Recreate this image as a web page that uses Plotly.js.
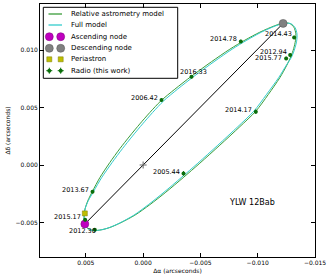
<!DOCTYPE html>
<html><head><meta charset="utf-8">
<script src="https://cdn.plot.ly/plotly-3.0.1.min.js"></script>
<style>html,body{margin:0;padding:0;background:#fff}#chart{width:332px;height:279px}</style>
</head><body><div id="chart"></div>
<script>
// Relative astrometry model orbit (arcsec)
var relModelX = [0.005001,0.005132,0.005150,0.005062,0.004827,0.004416,0.003779,0.002906,0.002034,0.001161,0.000288,-0.000585,-0.001545,-0.002767,-0.004224,-0.005970,-0.007567,-0.008876,-0.010186,-0.011495,-0.012280,-0.012804,-0.013153,-0.013328,-0.013293,-0.013136,-0.012891,-0.012542,-0.011931,-0.010910,-0.009836,-0.008440,-0.006694,-0.004949,-0.003491,-0.001981,-0.000585,0.000724,0.002034,0.002906,0.003517,0.004128,0.004652,0.005001];
var relModelY = [-0.005322,-0.004844,-0.004322,-0.003800,-0.003104,-0.002278,-0.001104,0.000217,0.001417,0.002522,0.003574,0.004565,0.005574,0.006592,0.007722,0.008983,0.010070,0.010853,0.011548,0.012113,0.012348,0.012305,0.011983,0.011418,0.010809,0.010113,0.009418,0.008679,0.007592,0.006113,0.004678,0.003331,0.001722,0.000157,-0.001104,-0.002365,-0.003452,-0.004365,-0.005061,-0.005435,-0.005609,-0.005696,-0.005626,-0.005322];
// Full model orbit (arcsec)
var fullModelX = [0.005001,0.005132,0.005150,0.005062,0.004783,0.004311,0.003622,0.002705,0.001807,0.000925,0.000044,-0.000829,-0.001789,-0.003003,-0.004451,-0.006188,-0.007768,-0.009051,-0.010317,-0.011600,-0.012411,-0.012935,-0.013267,-0.013432,-0.013397,-0.013223,-0.012961,-0.012498,-0.011826,-0.010753,-0.009661,-0.008265,-0.006519,-0.004774,-0.003316,-0.001824,-0.000454,0.000811,0.002078,0.002932,0.003517,0.004128,0.004652,0.005001];
var fullModelY = [-0.005322,-0.004844,-0.004322,-0.003800,-0.003104,-0.002278,-0.001104,0.000217,0.001417,0.002522,0.003574,0.004565,0.005574,0.006592,0.007722,0.008983,0.010070,0.010853,0.011548,0.012113,0.012331,0.012270,0.011940,0.011374,0.010766,0.010087,0.009400,0.008679,0.007592,0.006113,0.004678,0.003331,0.001722,0.000157,-0.001104,-0.002365,-0.003452,-0.004365,-0.005061,-0.005435,-0.005609,-0.005696,-0.005626,-0.005322];
// Special points
var ascNodeX = [0.005088], ascNodeY = [-0.005131];
var descNodeX = [-0.012219], descNodeY = [0.012314];
var periX = [0.005088], periY = [-0.004209];
var centerX = [0], centerY = [0];
// Radio (this work)
var epochs = ['2006.42','2014.78','2014.43','2012.94','2015.77','2016.33','2014.17','2005.44','2013.67','2015.17','2012.30'];
var radioX = [-0.001606,-0.008527,-0.013179,-0.012830,-0.012481,-0.004224,-0.009836,-0.003526,0.004416,0.005062,0.004216];
var radioY = [0.005652,0.010748,0.011096,0.009566,0.009270,0.007679,0.004635,-0.000730,-0.002322,-0.004757,-0.005626];
var radioErrX = [0.0001,0.0001,0.0001,0.0001,0.0001,0.0001,0.0001,0.0001,0.0001,0.0001,0.0001];
var radioErrY = [0.00015,0.00015,0.00015,0.00015,0.00015,0.00015,0.0002,0.0002,0.00015,0.00015,0.00015];
// Tick labels
var xTickVals = [0.005,0,-0.005,-0.010,-0.015];
var xTickText = ['0.005','0.000','\u22120.005','\u22120.010','\u22120.015'];
var yTickVals = [-0.005,0,0.005,0.010];
var yTickText = ['\u22120.005','0.000','0.005','0.010'];
var legendNames = ['Relative astrometry model','Full model','Ascending node','Descending node','Periastron','Radio (this work)'];

// ---- layout / style constants ----
var labelShiftX = [-2,-2.3,0,-1,-2,17.6,-2,-2,-2,-2,3.3];
var labelShiftY = [2.3,2.4,3.7,2.6,0.4,4.3,1.7,1.8,2,2.3,-1.7];
var font = 'DejaVu Sans, sans-serif';
var GREEN = '#3a9d3a', CYAN = '#33cccc', MAG = '#bf00bf', GRAY = '#808080', YEL = '#bfbf00', DOT = '#0a6e0a';
// legend geometry in overlay pixel axes
var LG = {x0:43.3, x1:177.7, y0:7.3, y1:78.3, rows:[14,25,36.7,48.3,59.3,70.7], k0:49.3, k1:60.7, lx0:48.5, lx1:62, tx:69};

var traces = [
  {x:[ascNodeX[0],descNodeX[0]], y:[ascNodeY[0],descNodeY[0]], mode:'lines', line:{color:'#000',width:1}, hoverinfo:'skip'},
  {x:centerX, y:centerY, mode:'markers', marker:{symbol:'cross-thin',size:5,line:{color:'#666',width:1}}},
  {x:relModelX, y:relModelY, mode:'lines', line:{color:GREEN,width:1,shape:'spline',smoothing:0.8}},
  {x:fullModelX, y:fullModelY, mode:'lines', line:{color:CYAN,width:1,shape:'spline',smoothing:0.8}},
  {x:ascNodeX, y:ascNodeY, mode:'markers', marker:{color:MAG,size:8,line:{color:'#7a007a',width:0.5}}},
  {x:descNodeX, y:descNodeY, mode:'markers', marker:{color:GRAY,size:8,line:{color:'#555',width:0.5}}},
  {x:periX, y:periY, mode:'markers', marker:{color:YEL,symbol:'square',size:5,line:{color:'#7a7a00',width:0.5}}},
  {x:radioX, y:radioY, mode:'markers', marker:{color:DOT,size:4},
   error_x:{type:'data',array:radioErrX,color:DOT,thickness:1,width:0},
   error_y:{type:'data',array:radioErrY,color:DOT,thickness:1,width:0}},
  // legend keys (drawn on an invisible pixel-unit overlay)
  {xaxis:'x2',yaxis:'y2',x:[LG.k0,LG.k1],y:[LG.rows[2],LG.rows[2]],mode:'markers',marker:{color:MAG,size:8,line:{color:'#7a007a',width:0.5}}},
  {xaxis:'x2',yaxis:'y2',x:[LG.k0,LG.k1],y:[LG.rows[3],LG.rows[3]],mode:'markers',marker:{color:GRAY,size:8,line:{color:'#555',width:0.5}}},
  {xaxis:'x2',yaxis:'y2',x:[LG.k0,LG.k1],y:[LG.rows[4],LG.rows[4]],mode:'markers',marker:{color:YEL,symbol:'square',size:5,line:{color:'#7a7a00',width:0.5}}},
  {xaxis:'x2',yaxis:'y2',x:[LG.k0,LG.k1],y:[LG.rows[5],LG.rows[5]],mode:'markers',marker:{color:DOT,size:4},
   error_x:{type:'constant',value:3,color:DOT,thickness:1,width:0},error_y:{type:'constant',value:3,color:DOT,thickness:1,width:0}}
];
traces.forEach(function(t){t.showlegend=false;});

var annotations = epochs.map(function(t,i){
  return {x:radioX[i], y:radioY[i], text:t, showarrow:false, xanchor:'right', yanchor:'middle',
    xshift:labelShiftX[i], yshift:labelShiftY[i], font:{family:font,size:6.5,color:'#000'}};
});
annotations.push({x:-0.0095, y:-0.0033, text:'YLW 12Bab', showarrow:false, font:{family:font,size:8,color:'#000'}});
legendNames.forEach(function(n,i){
  annotations.push({xref:'x2',yref:'y2',x:LG.tx,y:LG.rows[i],text:n,showarrow:false,xanchor:'left',yanchor:'middle',
    font:{family:font,size:7,color:'#000'}});
});
var shapes = [
  {type:'rect',xref:'x2',yref:'y2',x0:LG.x0,x1:LG.x1,y0:LG.y0,y1:LG.y1,line:{color:'#000',width:1},fillcolor:'#fff',layer:'below'},
  {type:'line',xref:'x2',yref:'y2',x0:LG.lx0,x1:LG.lx1,y0:LG.rows[0],y1:LG.rows[0],line:{color:GREEN,width:1.3}},
  {type:'line',xref:'x2',yref:'y2',x0:LG.lx0,x1:LG.lx1,y0:LG.rows[1],y1:LG.rows[1],line:{color:CYAN,width:1.3}}
];
var layout = {
  width:332, height:279,
  margin:{l:40,r:17,t:4,b:22},
  paper_bgcolor:'#fff', plot_bgcolor:'#fff',
  showlegend:false,
  xaxis:{range:[0.009,-0.015],tickvals:xTickVals,ticktext:xTickText,ticks:'inside',ticklen:4,tickcolor:'#000',
    mirror:'ticks',showline:true,linecolor:'#000',linewidth:1,showgrid:false,zeroline:false,
    tickfont:{family:font,size:6,color:'#000'},
    title:{text:'\u0394\u03b1 (arcseconds)',font:{family:font,size:6,color:'#000'},standoff:3}},
  yaxis:{range:[-0.008,0.014],tickvals:yTickVals,ticktext:yTickText,ticks:'inside',ticklen:4,tickcolor:'#000',
    mirror:'ticks',showline:true,linecolor:'#000',linewidth:1,showgrid:false,zeroline:false,
    tickfont:{family:font,size:6,color:'#000'},
    title:{text:'\u0394\u03b4 (arcseconds)',font:{family:font,size:6,color:'#000'},standoff:4}},
  xaxis2:{overlaying:'x',range:[40,315],visible:false,fixedrange:true},
  yaxis2:{overlaying:'y',range:[257,4],visible:false,fixedrange:true},
  shapes:shapes,
  annotations:annotations
};
Plotly.newPlot('chart', traces, layout, {displayModeBar:false, staticPlot:true});
</script></body></html>
